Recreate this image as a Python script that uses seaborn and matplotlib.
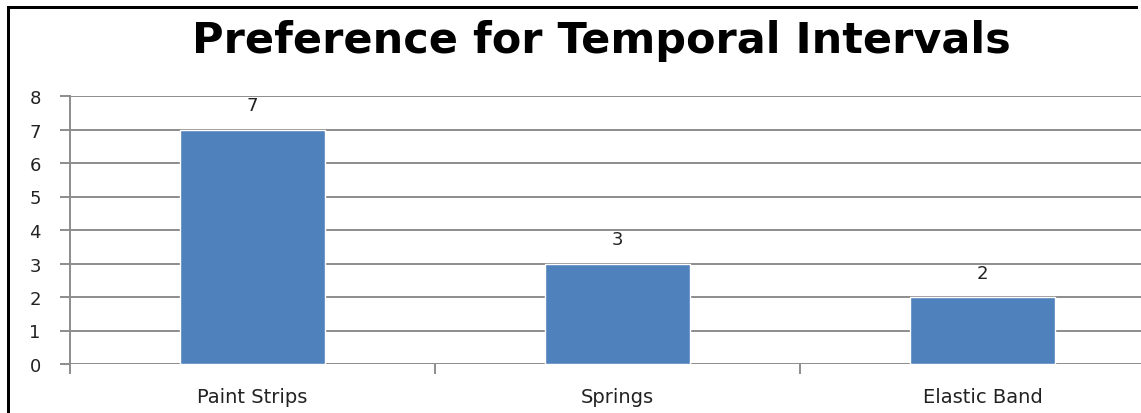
import numpy as np
import pandas as pd
import matplotlib
matplotlib.use('Agg')
import matplotlib.pyplot as plt
import seaborn as sns
from matplotlib.patches import Rectangle

# data
categories = ['Paint Strips', 'Springs', 'Elastic Band']
counts = [7, 3, 2]
y_ticks = [0, 1, 2, 3, 4, 5, 6, 7, 8]

df = pd.DataFrame({'cat': categories, 'n': counts})

sns.set_style('white')
plt.rcParams['font.family'] = ['DejaVu Sans']

fig = plt.figure(figsize=(11.41, 4.14), dpi=100)
# the original is cropped on the right, so the plot area stops at the figure edge
# and the last category slot is cut short
ax = fig.add_axes([70 / 1141, 49 / 414, 1 - 70 / 1141, 268 / 414])

sns.barplot(data=df, x='cat', y='n', color='#4F81BD', saturation=1,
            width=0.395, ax=ax, zorder=3)

ax.set_ylim(0, 8)
ax.set_xlim(-0.5, -0.5 + 3 * (1141 - 70) / 1095)
ax.set_yticks(y_ticks)
ax.grid(axis='y', color='#8c8c8c', linewidth=1.4, zorder=0)
ax.set_axisbelow(True)
for s in ['top', 'right', 'bottom']:
    ax.spines[s].set_visible(False)
ax.spines['left'].set_color('#8c8c8c')
ax.spines['left'].set_linewidth(1.4)

ax.set_xlabel('')
ax.set_ylabel('')
ax.tick_params(axis='y', which='both', left=True, length=7, width=1.4,
               color='#8c8c8c', labelsize=13, labelcolor='#222222', pad=14)
# category boundary ticks
ax.set_xticks([-0.5, 0.5, 1.5], minor=True)
ax.tick_params(axis='x', which='minor', bottom=True, length=7, width=1.4, color='#8c8c8c')
ax.tick_params(axis='x', which='major', bottom=False, labelsize=14,
               labelcolor='#222222', pad=13)

for c in ax.containers:
    ax.bar_label(c, labels=[str(v) for v in counts], padding=11, fontsize=13, color='#222222')

fig.text(0.527, 0.9, 'Preference for Temporal Intervals', ha='center', va='center',
         fontsize=31, fontweight='bold', color='black')

# outer chart border, only left and top visible (image is cropped)
W, H = 1141, 414
fig.patches.append(Rectangle((7 / W, 0), 2.5 / W, 1 - 7 / H, transform=fig.transFigure,
                             facecolor='black', edgecolor='none'))
fig.patches.append(Rectangle((7 / W, 1 - 9.5 / H), 1 - 10 / W, 2.5 / H,
                             transform=fig.transFigure,
                             facecolor='black', edgecolor='none'))

fig.savefig('out.png', dpi=100)
